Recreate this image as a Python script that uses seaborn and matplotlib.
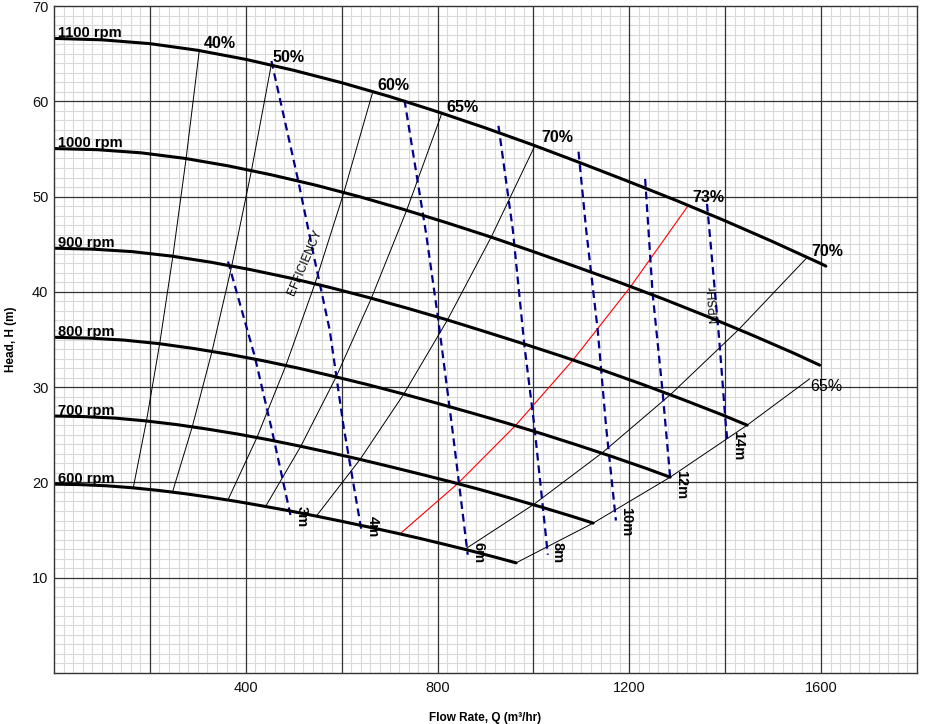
import matplotlib
matplotlib.use("Agg")
import matplotlib.pyplot as plt
from matplotlib.ticker import MultipleLocator, FuncFormatter
import seaborn as sns
import pandas as pd

# ---------------- data ----------------
speeds = ["1100 rpm", "1000 rpm", "900 rpm", "800 rpm", "700 rpm", "600 rpm"]
q_1100 = [0, 100, 200, 300, 400, 500, 600, 700, 800, 900, 1000, 1100, 1200, 1300, 1400, 1500, 1600, 1610]
h_1100 = [66.6, 66.45, 66.05, 65.35, 64.4, 63.25, 61.95, 60.5, 58.9, 57.2, 55.4, 53.5, 51.55, 49.55, 47.45, 45.25, 42.95, 42.7]
q_1000 = [0, 90.9, 181.8, 272.7, 363.6, 454.5, 545.5, 636.4, 727.3, 818.2, 909.1, 1000, 1090.9, 1181.8, 1272.7, 1363.6, 1454.5, 1545.5, 1597]
h_1000 = [55.04, 54.92, 54.59, 54.01, 53.22, 52.27, 51.2, 50.0, 48.68, 47.27, 45.79, 44.22, 42.6, 40.95, 39.22, 37.4, 35.5, 33.51, 32.31]
q_900 = [0, 81.8, 163.6, 245.5, 327.3, 409.1, 490.9, 572.7, 654.5, 736.4, 818.2, 900, 981.8, 1063.6, 1145.5, 1227.3, 1309.1, 1390.9, 1445.7]
h_900 = [44.58, 44.48, 44.22, 43.75, 43.11, 42.34, 41.47, 40.5, 39.43, 38.29, 37.09, 35.81, 34.51, 33.17, 31.76, 30.29, 28.75, 27.15, 26.01]
q_800 = [0, 72.7, 145.5, 218.2, 290.9, 363.6, 436.4, 509.1, 581.8, 654.5, 727.3, 800, 872.7, 945.5, 1018.2, 1090.9, 1163.6, 1236.4, 1285.1]
h_800 = [35.23, 35.15, 34.94, 34.57, 34.06, 33.46, 32.77, 32.0, 31.15, 30.26, 29.3, 28.3, 27.27, 26.21, 25.1, 23.93, 22.72, 21.45, 20.55]
q_700 = [0, 63.6, 127.3, 190.9, 254.5, 318.2, 381.8, 445.5, 509.1, 572.7, 636.4, 700, 763.6, 827.3, 890.9, 954.5, 1018.2, 1081.8, 1124.5]
h_700 = [26.97, 26.91, 26.75, 26.46, 26.08, 25.61, 25.09, 24.5, 23.85, 23.16, 22.44, 21.67, 20.88, 20.07, 19.22, 18.32, 17.39, 16.42, 15.73]
q_600 = [0, 54.5, 109.1, 163.6, 218.2, 272.7, 327.3, 381.8, 436.4, 490.9, 545.5, 600, 654.5, 709.1, 763.6, 818.2, 872.7, 927.3, 963.8]
h_600 = [19.82, 19.77, 19.65, 19.44, 19.16, 18.82, 18.43, 18.0, 17.52, 17.02, 16.48, 15.92, 15.34, 14.74, 14.12, 13.46, 12.78, 12.06, 11.56]

# iso-efficiency lines (points from 600 rpm up to 1100 rpm)
eff_q_40 = [165.3, 192.8, 220.4, 247.9, 275.5, 303]
eff_h_40 = [19.43, 26.45, 34.55, 43.73, 53.98, 65.32]
eff_q_50 = [247.1, 288.3, 329.5, 370.6, 411.8, 453]
eff_h_50 = [18.98, 25.83, 33.74, 42.7, 52.72, 63.79]
eff_q_60 = [362.7, 423.2, 483.6, 544.1, 604.5, 665]
eff_h_60 = [18.15, 24.71, 32.27, 40.84, 50.42, 61.01]
eff_q_65 = [441.3, 514.8, 588.4, 661.9, 735.5, 809]
eff_h_65 = [17.48, 23.79, 31.07, 39.33, 48.55, 58.75]
eff_q_70 = [547.1, 638.3, 729.5, 820.6, 911.8, 1003]
eff_h_70 = [16.46, 22.41, 29.27, 37.05, 45.74, 55.34]
eff_q_73 = [721.6, 841.9, 962.2, 1082.5, 1202.7, 1323]
eff_h_73 = [14.6, 19.87, 25.95, 32.85, 40.55, 49.07]
eff_q_70r = [856.9, 999.7, 1142.5, 1285.4, 1428.2, 1571]
eff_h_70r = [12.98, 17.66, 23.07, 29.2, 36.05, 43.62]
eff_q_65r = [963.8, 1124.5, 1285.1, 1445.7, 1576]
eff_h_65r = [11.56, 15.73, 20.55, 26.01, 30.87]

# NPSHr lines
npsh_q_3 = [363, 418.8, 453.5, 493.8]
npsh_h_3 = [43.18, 33.21, 25.7, 16.43]
npsh_q_4 = [453.5, 509, 540, 575, 604, 641]
npsh_h_4 = [64.23, 51.75, 44.23, 36.0, 25.87, 15.03]
npsh_q_6 = [731, 776, 800.6, 830.6, 863]
npsh_h_6 = [60.14, 46.15, 37.41, 25.7, 12.41]
npsh_q_8 = [927, 957, 981, 1002, 1030]
npsh_h_8 = [57.43, 46.5, 34.44, 25.87, 12.41]
npsh_q_10 = [1094, 1110, 1134, 1151.5, 1172]
npsh_h_10 = [54.71, 46.5, 36.0, 25.87, 16.0]
npsh_q_12 = [1233, 1248.5, 1269, 1285.1]
npsh_h_12 = [51.85, 39.86, 29.72, 20.55]
npsh_q_14 = [1362, 1367, 1387.5, 1401.5, 1405]
npsh_h_14 = [49.23, 46.5, 34.97, 25.87, 24.19]

eff_labels = ["40%", "50%", "60%", "65%", "70%", "73%", "70%", "65%"]
eff_label_q = [345, 490, 707, 851, 1050, 1365, 1612, 1610]
eff_label_h = [66.1, 64.55, 61.66, 59.4, 56.15, 49.86, 44.2, 30.03]
npsh_labels = ["3m", "4m", "6m", "8m", "10m", "12m", "14m"]
npsh_label_q = [516, 664, 886, 1051, 1194, 1308, 1426]
npsh_label_h = [16.4, 15.4, 12.6, 12.6, 15.9, 19.8, 23.9]

x_ticks = [400, 800, 1200, 1600]
y_ticks = [10, 20, 30, 40, 50, 60, 70]

# ---------------- figure ----------------
sns.set_style("white")
plt.rcParams["font.family"] = ["Liberation Sans", "DejaVu Sans"]
plt.rcParams["text.color"] = "black"
plt.rcParams["axes.labelcolor"] = "black"

fig = plt.figure(figsize=(9.28, 7.24), dpi=100)
ax = fig.add_axes([54 / 928, 1 - 673 / 724, (917 - 54) / 928, (673 - 6) / 724])

ax.set_xlim(0, 1800)
ax.set_ylim(0, 70)

# grid: light minor grid, dark major grid drawn on top of it
ax.xaxis.set_major_locator(MultipleLocator(200))
ax.xaxis.set_minor_locator(MultipleLocator(20))
ax.yaxis.set_major_locator(MultipleLocator(10))
ax.yaxis.set_minor_locator(MultipleLocator(1))
ax.grid(which="minor", color="#dadada", linewidth=0.8)
ax.grid(which="major", visible=False)
ax.set_axisbelow(True)
for gx in range(200, 1800, 200):
    ax.axvline(gx, color="#333333", linewidth=0.9, zorder=1)
for gy in range(10, 70, 10):
    ax.axhline(gy, color="#333333", linewidth=0.9, zorder=1)

ax.xaxis.set_major_formatter(FuncFormatter(lambda v, p: f"{int(v)}" if int(v) in x_ticks else ""))
ax.yaxis.set_major_formatter(FuncFormatter(lambda v, p: f"{int(v)}" if int(v) in y_ticks else ""))
ax.tick_params(which="both", length=0, labelsize=10.5, colors="#111111")
ax.tick_params(axis="x", pad=6)
ax.tick_params(axis="y", pad=4)
for s in ax.spines.values():
    s.set_color("#333333")
    s.set_linewidth(1.0)
    s.set_zorder(6)

def line(q, h, **kw):
    df = pd.DataFrame({"Q": q, "H": h})
    sns.lineplot(data=df, x="Q", y="H", sort=False, estimator=None, ax=ax, **kw)

# efficiency lines (thin)
for q, h in [(eff_q_40, eff_h_40), (eff_q_50, eff_h_50), (eff_q_60, eff_h_60),
             (eff_q_65, eff_h_65), (eff_q_70, eff_h_70), (eff_q_70r, eff_h_70r),
             (eff_q_65r, eff_h_65r)]:
    line(q, h, color="black", linewidth=0.7, zorder=2)
line(eff_q_73, eff_h_73, color="#ff0000", linewidth=0.8, zorder=2)

# NPSHr dashed lines
for q, h in [(npsh_q_3, npsh_h_3), (npsh_q_4, npsh_h_4), (npsh_q_6, npsh_h_6),
             (npsh_q_8, npsh_h_8), (npsh_q_10, npsh_h_10), (npsh_q_12, npsh_h_12),
             (npsh_q_14, npsh_h_14)]:
    line(q, h, color="#00008b", linewidth=1.6, linestyle=(0, (3.5, 2.2)), zorder=3)

# speed curves (thick)
curves = [(q_1100, h_1100), (q_1000, h_1000), (q_900, h_900),
          (q_800, h_800), (q_700, h_700), (q_600, h_600)]
for name, (q, h) in zip(speeds, curves):
    line(q, h, color="black", linewidth=2.2, zorder=4)
    ax.text(8, h[0] - 0.2, name, fontsize=10.5, fontweight="bold",
            ha="left", va="bottom", zorder=5)

# labels
for i, (t, q, h) in enumerate(zip(eff_labels, eff_label_q, eff_label_h)):
    ax.text(q, h, t, fontsize=11.5, fontweight="normal" if i == 7 else "bold",
            ha="center", va="center", zorder=5)
for t, q, h in zip(npsh_labels, npsh_label_q, npsh_label_h):
    ax.text(q, h, t, fontsize=10.5, fontweight="bold", rotation=270,
            ha="center", va="center", zorder=5)
ax.text(523, 43.1, "EFFICIENCY", fontsize=8.5, rotation=67, ha="center", va="center", zorder=5)
ax.text(1375, 38.7, "NPSHr", fontsize=8.5, rotation=94, ha="center", va="center", zorder=5)

ax.set_xlabel("Flow Rate, Q (m\u00b3/hr)", fontsize=8.5, fontweight="bold", labelpad=12)
ax.set_ylabel("Head, H (m)", fontsize=8.5, fontweight="bold", labelpad=11)

fig.savefig("out.png", dpi=100)
